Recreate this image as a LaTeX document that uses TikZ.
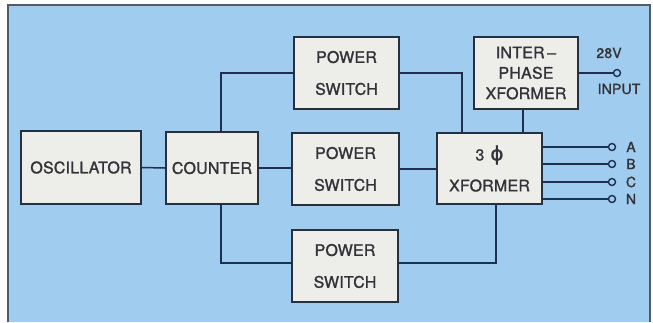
\documentclass[tikz,border=0pt]{standalone}
\usepackage{fontspec}
\setmainfont{TeX Gyre Heros}[FakeBold=1.3,LetterSpace=1.5]
\newfontfamily\phifont{DejaVu Sans}[FakeBold=1]
\begin{document}
\begin{tikzpicture}[x=1bp,y=-1bp,
  blk/.style={draw=boxline,fill=boxfill,line width=2.2bp,inner sep=0pt,align=center,
    text=txt,font=\fontsize{16}{32}\selectfont},
  wire/.style={draw=wirec,line width=1.5bp},
  term/.style={circle,draw=wirec,fill=bgblue,line width=1.4bp,inner sep=0pt,minimum size=7bp},
  lbl/.style={text=txt,inner sep=0pt,font=\fontsize{14}{14}\selectfont}]
\definecolor{bgblue}{RGB}{160,204,240}
\definecolor{boxfill}{RGB}{237,237,234}
\definecolor{boxline}{RGB}{40,48,62}
\definecolor{wirec}{RGB}{30,48,78}
\definecolor{txt}{RGB}{50,50,56}
\definecolor{frame}{RGB}{80,92,108}
\useasboundingbox (0,0) rectangle (653,322);
\fill[white] (0,0) rectangle (653,322);
\fill[bgblue] (8,5) rectangle (650,322);
\draw[frame,line width=1.5bp] (8,322) -- (8,5) -- (650,5) -- (650,322);
% blocks
\node[blk,minimum width=120bp,minimum height=73bp] (osc) at (81,167.5) {OSCILLATOR};
\node[blk,minimum width=92bp,minimum height=72bp] (cnt) at (212,168) {COUNTER};
\node[blk,minimum width=105bp,minimum height=72bp] (ps1) at (346.5,73) {POWER\\SWITCH};
\node[blk,minimum width=107bp,minimum height=72bp] (ps2) at (345.5,169) {POWER\\SWITCH};
\node[blk,minimum width=106bp,minimum height=72bp] (ps3) at (345,266) {POWER\\SWITCH};
\node[blk,minimum width=105bp,minimum height=71bp,font=\fontsize{16}{35}\selectfont] (xf) at (489.5,168.5) {3\hspace{6bp}{\phifont\fontsize{20}{20}\selectfont ϕ}\\[-4bp]XFORMER};
\node[blk,minimum width=104bp,minimum height=72bp,font=\fontsize{16}{20.5}\selectfont] (ip) at (526,73) {INTER\,–\\PHASE\\XFORMER};
% terminals
\node[term] (tin) at (617,73) {};
\node[term] (ta) at (612,147) {};
\node[term] (tb) at (612,164) {};
\node[term] (tc) at (612,182) {};
\node[term] (tn) at (612,199) {};
\node[lbl] (v28) at (609,53) {28V};
\node[lbl] (inp) at (619,89) {INPUT};
\node[lbl] (la) at (631,147) {A};
\node[lbl] (lb) at (631,164) {B};
\node[lbl] (lc) at (631,182) {C};
\node[lbl] (ln) at (631,199) {N};
% connectors
\draw[wire] (osc.east) -- (cnt.west);
\draw[wire] (cnt.east) -- (cnt.east -| ps2.west);
\draw[wire] (ps2.east) -- (ps2.east -| xf.west);
\draw[wire] ([xshift=9bp]cnt.north) |- (ps1.west);
\draw[wire] ([xshift=9bp]cnt.south) |- ([yshift=3bp]ps3.west);
\draw[wire] (ps1.east) -| ([xshift=-27.5bp]xf.north);
\draw[wire] ([yshift=3bp]ps3.east) -| ([xshift=6.5bp]xf.south);
\draw[wire] ([xshift=-3bp]ip.south) -- ([xshift=-3bp]ip.south |- xf.north);
\draw[wire] (ip.east) -- (tin.west);
\draw[wire] (ta.west -| xf.east) -- (ta.west);
\draw[wire] (tb.west -| xf.east) -- (tb.west);
\draw[wire] (tc.west -| xf.east) -- (tc.west);
\draw[wire] (tn.west -| xf.east) -- (tn.west);
\end{tikzpicture}
\end{document}
